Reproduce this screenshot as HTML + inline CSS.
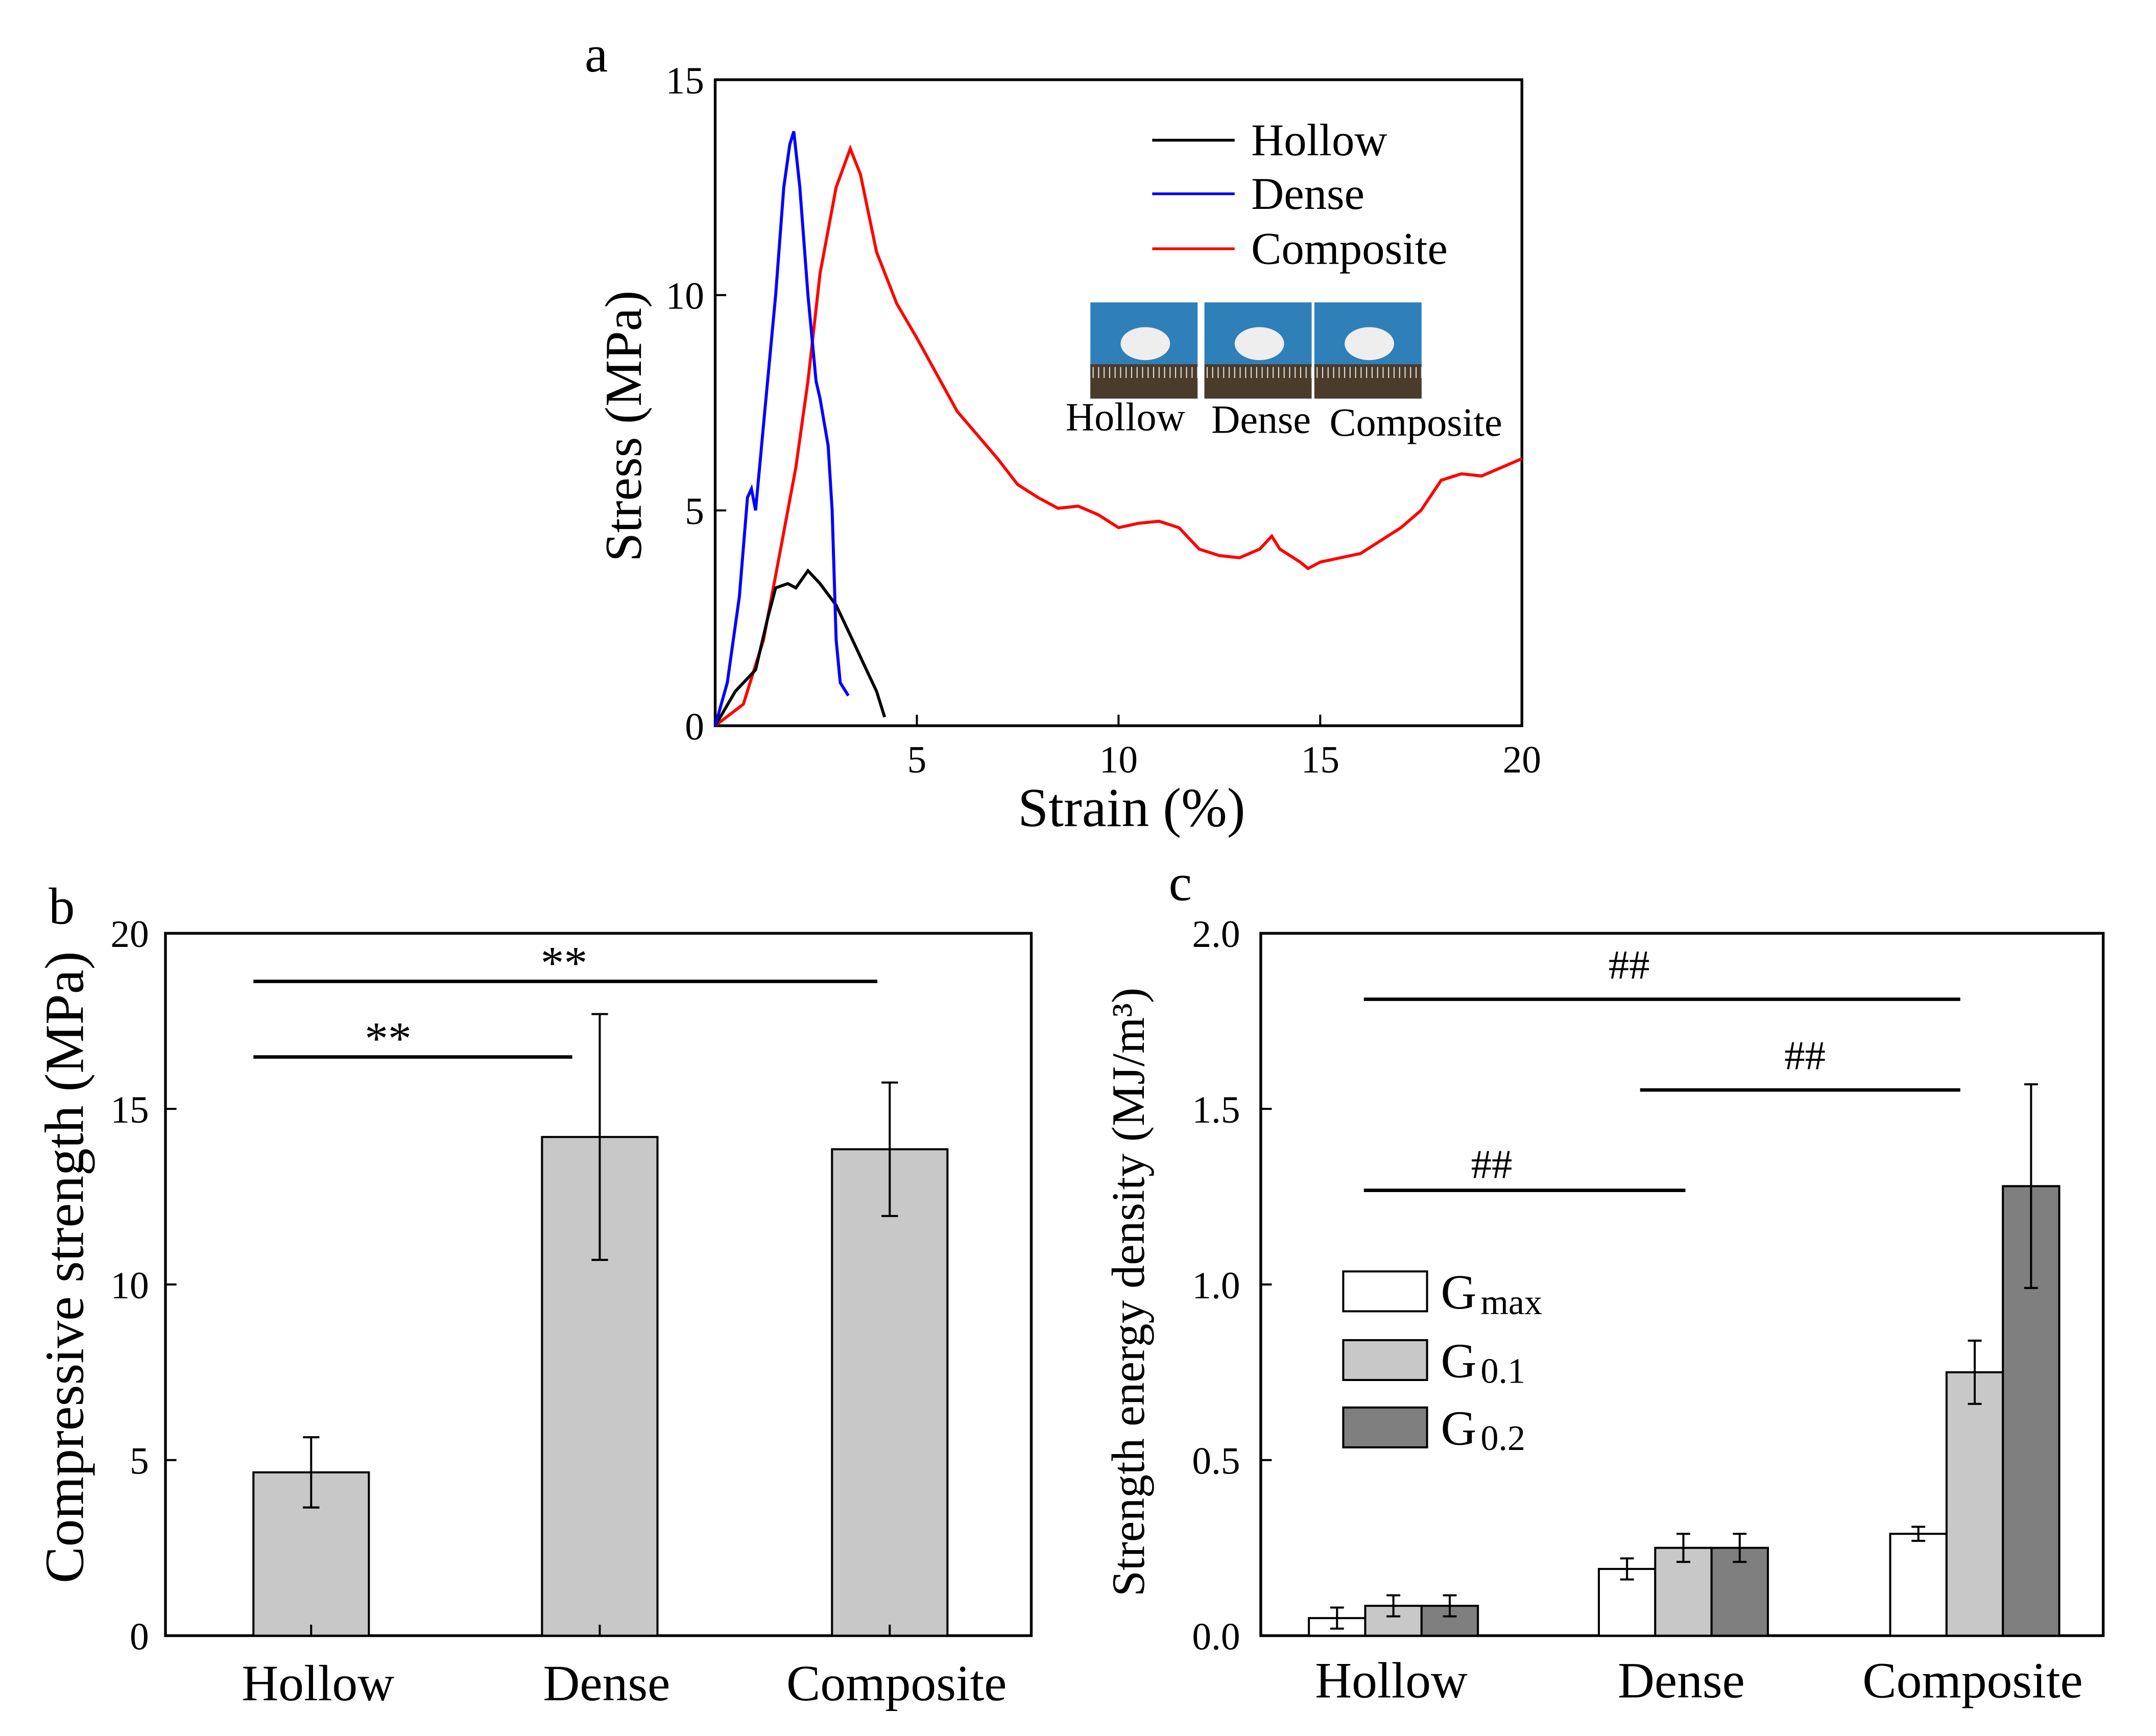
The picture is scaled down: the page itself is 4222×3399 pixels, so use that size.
<!DOCTYPE html>
<html><head><meta charset="utf-8"><style>
html,body{margin:0;padding:0;background:#fff}
svg{display:block;font-family:"Liberation Serif",serif}
</style></head><body>
<svg width="4222" height="3399" viewBox="0 0 1568 1263" xmlns="http://www.w3.org/2000/svg">
<rect width="1568" height="1263" fill="#fff"/>
<g id="pa"></g>
<g id="pb"></g>
<g id="pc"></g>
</svg>
<script>
// Panel a data
const hollowX=[0,0.5,1,1.3,1.5,1.8,2,2.3,2.6,3,3.4,3.8,4.0,4.2];
const hollowY=[0,0.8,1.3,2.5,3.2,3.3,3.2,3.6,3.3,2.8,2.0,1.2,0.8,0.2];
const denseX=[0,0.3,0.6,0.8,0.9,1.0,1.2,1.5,1.7,1.85,1.95,2.1,2.3,2.5,2.6,2.8,2.9,3.0,3.1,3.3];
const denseY=[0,1,3,5.3,5.5,5,7,10,12.5,13.5,13.8,12.5,10,8,7.6,6.5,5,2,1,0.7];
const compX=[0,0.7,1.2,1.6,2,2.3,2.6,3,3.35,3.6,4,4.5,5,6,7,7.5,8,8.5,9,9.5,10,10.5,11,11.5,12,12.5,13,13.5,13.8,14,14.5,14.7,15,16,17,17.5,18,18.5,19,20];
const compY=[0,0.5,2,4,6,8,10.5,12.5,13.4,12.8,11,9.8,9,7.3,6.2,5.6,5.3,5.05,5.1,4.9,4.6,4.7,4.75,4.6,4.1,3.95,3.9,4.1,4.4,4.1,3.8,3.65,3.8,4.0,4.6,5.0,5.7,5.85,5.8,6.2];
const aXTicks=[5,10,15,20];
const aYTicks=[0,5,10,15];
// Panel b data
const bCats=["Hollow","Dense","Composite"];
const bVals=[4.65,14.2,13.85];
const bErr=[1.0,3.5,1.9];
const bYTicks=[0,5,10,15,20];
// Panel c data
const cCats=["Hollow","Dense","Composite"];
const cGmax=[0.05,0.19,0.29];
const cG01=[0.085,0.25,0.75];
const cG02=[0.085,0.25,1.28];
const cErrGmax=[0.03,0.03,0.02];
const cErrG01=[0.03,0.04,0.09];
const cErrG02=[0.03,0.04,0.29];
const cYTicks=[0,0.5,1.0,1.5,2.0];

const NS="http://www.w3.org/2000/svg";
function mk(parent,tag,attrs,text){const e=document.createElementNS(NS,tag);for(const k in attrs)e.setAttribute(k,attrs[k]);if(text!==undefined)e.textContent=text;parent.appendChild(e);return e;}

// ---- Panel a
const pa=document.getElementById('pa');
const ax=v=>520+v*(1107-520)/20, ay=v=>528-v*(528-58)/15;
let t=mk(pa,'text',{x:425,y:52,'font-size':38},'a');


let r=mk(pa,'rect',{x:520,y:58,width:587,height:470,fill:'none',stroke:'#000','stroke-width':2});


aXTicks.forEach(v=>{mk(pa,'line',{x1:ax(v),x2:ax(v),y1:528,y2:520,stroke:'#000','stroke-width':1.5});
 const l=mk(pa,'text',{x:ax(v),y:562,'font-size':28,'text-anchor':'middle'},String(v));
 
 });
aYTicks.forEach(v=>{mk(pa,'line',{x1:520,x2:528,y1:ay(v),y2:ay(v),stroke:'#000','stroke-width':1.5});
 const l=mk(pa,'text',{x:512,y:ay(v)+10,'font-size':28,'text-anchor':'end'},String(v));
 
 });
t=mk(pa,'text',{x:823,y:601,'font-size':40,'text-anchor':'middle'},'Strain (%)');


t=mk(pa,'text',{x:0,y:0,'font-size':38,'text-anchor':'middle',transform:'translate(466,310) rotate(-90)'},'Stress (MPa)');


function curve(xs,ys,col,name){const d=xs.map((x,i)=>(i?'L':'M')+ax(x).toFixed(1)+','+ay(ys[i]).toFixed(1)).join('');
 const p=mk(pa,'path',{d:d,fill:'none',stroke:col,'stroke-width':2.2});
 
 }
curve(compX,compY,'#f00','composite-curve');
curve(hollowX,hollowY,'#000','hollow-curve');
curve(denseX,denseY,'#00f','dense-curve');
[['Hollow','#000',102],['Dense','#00f',141],['Composite','#f00',181]].forEach(([n,c,y])=>{
 mk(pa,'line',{x1:838,x2:898,y1:y,y2:y,stroke:c,'stroke-width':2});
 const l=mk(pa,'text',{x:910,y:y+11,'font-size':33},n);
 
 });
[[793,'Hollow'],[876,'Dense'],[956,'Composite']].forEach(([x,n])=>{
 const g=mk(pa,'g',{});
 
 
 mk(g,'rect',{x:x,y:220,width:78,height:70,fill:'#2f7fb8'});
 mk(g,'rect',{x:x,y:265,width:78,height:25,fill:'#4a3b2a'});
 for(let i=0;i<20;i++)mk(g,'line',{x1:x+2+i*4,x2:x+2+i*4,y1:267,y2:275,stroke:'#ddd','stroke-width':0.8});
 mk(g,'ellipse',{cx:x+40,cy:250,rx:18,ry:12,fill:'#eee'});
});
t=mk(pa,'text',{x:775,y:313,'font-size':29},'Hollow');

t=mk(pa,'text',{x:881,y:315,'font-size':29},'Dense');

t=mk(pa,'text',{x:967,y:317,'font-size':29},'Composite');


// ---- Panel b
const pb=document.getElementById('pb');
const by=v=>1190-v*(1190-679)/20;
const bCx=[226,436,647];
t=mk(pb,'text',{x:35,y:672,'font-size':38},'b');

r=mk(pb,'rect',{x:120,y:679,width:630,height:511,fill:'none',stroke:'#000','stroke-width':2});

bYTicks.forEach(v=>{mk(pb,'line',{x1:120,x2:128,y1:by(v),y2:by(v),stroke:'#000','stroke-width':1.5});
 const l=mk(pb,'text',{x:108,y:by(v)+10,'font-size':28,'text-anchor':'end'},String(v));
 });
bCats.forEach((c,i)=>{const x=bCx[i];
 const b=mk(pb,'rect',{x:x-42,y:by(bVals[i]),width:84,height:by(0)-by(bVals[i]),fill:'#c8c8c8',stroke:'#000','stroke-width':1.5});
 
 const y1=by(bVals[i]+bErr[i]),y2=by(bVals[i]-bErr[i]);
 mk(pb,'line',{x1:x,x2:x,y1:y1,y2:y2,stroke:'#000','stroke-width':1.5});
 mk(pb,'line',{x1:x-6,x2:x+6,y1:y1,y2:y1,stroke:'#000','stroke-width':1.5});
 mk(pb,'line',{x1:x-6,x2:x+6,y1:y2,y2:y2,stroke:'#000','stroke-width':1.5});
 mk(pb,'line',{x1:x,x2:x,y1:1190,y2:1182,stroke:'#000','stroke-width':1.5});
 const l=mk(pb,'text',{x:x+5,y:1237,'font-size':37,'text-anchor':'middle'},c);
 });
t=mk(pb,'text',{x:0,y:0,'font-size':40,'text-anchor':'middle',transform:'translate(60,922) rotate(-90)'},'Compressive strength (MPa)');

mk(pb,'line',{x1:184,x2:638,y1:714,y2:714,stroke:'#000','stroke-width':2.5});
mk(pb,'line',{x1:184,x2:416,y1:769,y2:769,stroke:'#000','stroke-width':2.5});
t=mk(pb,'text',{x:410,y:712,'font-size':34,'text-anchor':'middle'},'**');

t=mk(pb,'text',{x:282,y:767,'font-size':34,'text-anchor':'middle'},'**');


// ---- Panel c
const pc=document.getElementById('pc');
const cy=v=>1190-v*(1190-679)/2;
const cGroupLeft=[952,1163,1375];
const bw=41;
t=mk(pc,'text',{x:850,y:655,'font-size':38},'c');

r=mk(pc,'rect',{x:917,y:679,width:613,height:511,fill:'none',stroke:'#000','stroke-width':2});

cYTicks.forEach(v=>{mk(pc,'line',{x1:917,x2:925,y1:cy(v),y2:cy(v),stroke:'#000','stroke-width':1.5});
 const l=mk(pc,'text',{x:902,y:cy(v)+10,'font-size':28,'text-anchor':'end'},v.toFixed(1));
 });
const series=[[cGmax,cErrGmax,'#fff','gmax'],[cG01,cErrG01,'#c8c8c8','g01'],[cG02,cErrG02,'#7f7f7f','g02']];
cCats.forEach((c,i)=>{series.forEach(([vals,errs,col,nm],j)=>{
 const x=cGroupLeft[i]+j*bw;
 const b=mk(pc,'rect',{x:x,y:cy(vals[i]),width:bw,height:cy(0)-cy(vals[i]),fill:col,stroke:'#000','stroke-width':1.5});
 
 const xc=x+bw/2,y1=cy(vals[i]+errs[i]),y2=cy(vals[i]-errs[i]);
 mk(pc,'line',{x1:xc,x2:xc,y1:y1,y2:y2,stroke:'#000','stroke-width':1.5});
 mk(pc,'line',{x1:xc-5,x2:xc+5,y1:y1,y2:y1,stroke:'#000','stroke-width':1.5});
 mk(pc,'line',{x1:xc-5,x2:xc+5,y1:y2,y2:y2,stroke:'#000','stroke-width':1.5});});
 const l=mk(pc,'text',{x:cGroupLeft[i]+60,y:1235,'font-size':37,'text-anchor':'middle'},c);
 });
t=mk(pc,'text',{x:0,y:0,'font-size':34,'text-anchor':'middle',transform:'translate(832,940) rotate(-90)'},'Strength energy density (MJ/m³)');

[[992,1426,727,1185,712],[1193,1426,793,1313,778],[992,1226,866,1085,857]].forEach(([x1,x2,y,tx,ty])=>{
 mk(pc,'line',{x1:x1,x2:x2,y1:y,y2:y,stroke:'#000','stroke-width':2.5});
 const l=mk(pc,'text',{x:tx,y:ty,'font-size':30,'text-anchor':'middle'},'##');
 });
[['#fff',925,'max'],['#c8c8c8',975,'0.1'],['#7f7f7f',1024,'0.2']].forEach(([col,y,sub])=>{
 const g=mk(pc,'g',{});
 
 mk(g,'rect',{x:977,y:y,width:61,height:29,fill:col,stroke:'#000','stroke-width':1.5});
 const tx=mk(g,'text',{x:1048,y:y+27,'font-size':36},'G');
 mk(tx,'tspan',{'font-size':26,dx:3,dy:4},sub);});
</script>
</body></html>
